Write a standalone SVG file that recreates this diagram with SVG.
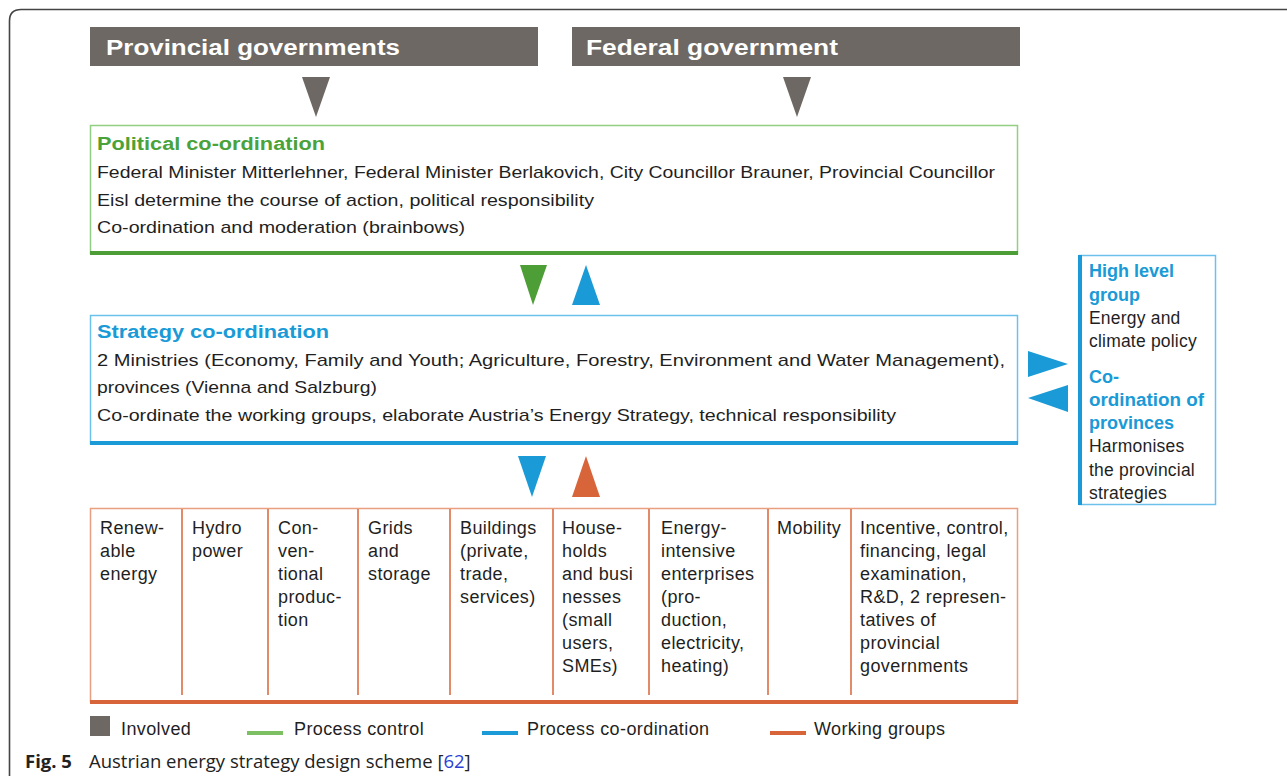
<svg xmlns="http://www.w3.org/2000/svg" width="1287" height="778" viewBox="0 0 1287 778">
<style>
.t{font-family:"Liberation Sans",Arial,sans-serif;font-size:17px;fill:#1f1f1f}
.c{font-family:"Liberation Sans",Arial,sans-serif;font-size:18px;letter-spacing:0.4px;fill:#1f1f1f}
.r{font-family:"Liberation Sans",Arial,sans-serif;font-size:17.5px;letter-spacing:0.2px;fill:#1f1f1f}
.rb{font-family:"Liberation Sans",Arial,sans-serif;font-size:18px;font-weight:bold;fill:#1a9ad6}
.hd{font-family:"Liberation Sans",Arial,sans-serif;font-size:22px;font-weight:bold;fill:#fff}
.tg{font-family:"Liberation Sans",Arial,sans-serif;font-size:18px;font-weight:bold;fill:#4aa33a}
.tb{font-family:"Liberation Sans",Arial,sans-serif;font-size:18px;font-weight:bold;fill:#1a9ad6}
.cap{font-family:"Open Sans","Noto Sans",sans-serif;font-size:18.5px;fill:#222}
.gray{fill:#6d6863}
.green{fill:#4d9e37}
.blue{fill:#1a9ad6}
.orange{fill:#d8643a}
</style>
<rect width="1287" height="778" fill="#fff"/>
<path d="M9.5,776 V21 Q9.5,9.5 21,9.5 H1287" fill="none" stroke="#444" stroke-width="1.6"/>

<g id="provincial">
<rect x="90" y="27" width="448" height="39" class="gray"/>
<text x="106" y="55" class="hd" textLength="294" lengthAdjust="spacingAndGlyphs">Provincial governments</text>
</g>
<g id="federal">
<rect x="572" y="27" width="448" height="39" class="gray"/>
<text x="586" y="55" class="hd" textLength="252" lengthAdjust="spacingAndGlyphs">Federal government</text>
</g>

<g id="political">
<rect x="90.5" y="125.5" width="927" height="128" fill="#fff" stroke="#93cf82" stroke-width="1.5"/>
<rect x="90" y="251" width="928" height="4" class="green"/>
<text x="97" y="150" class="tg" textLength="228" lengthAdjust="spacingAndGlyphs">Political co-ordination</text>
<text x="97" y="178" class="t" textLength="898" lengthAdjust="spacingAndGlyphs">Federal Minister Mitterlehner, Federal Minister Berlakovich, City Councillor Brauner, Provincial Councillor</text>
<text x="97" y="206" class="t" textLength="497" lengthAdjust="spacingAndGlyphs">Eisl determine the course of action, political responsibility</text>
<text x="97" y="233" class="t" textLength="368" lengthAdjust="spacingAndGlyphs">Co-ordination and moderation (brainbows)</text>
</g>

<g id="strategy">
<rect x="90.5" y="315.5" width="927" height="128" fill="#fff" stroke="#6cc1ea" stroke-width="1.5"/>
<rect x="90" y="441" width="928" height="4" class="blue"/>
<text x="97" y="338" class="tb" textLength="232" lengthAdjust="spacingAndGlyphs">Strategy co-ordination</text>
<text x="97" y="366" class="t" textLength="908" lengthAdjust="spacingAndGlyphs">2 Ministries (Economy, Family and Youth; Agriculture, Forestry, Environment and Water Management),</text>
<text x="97" y="393" class="t" textLength="280" lengthAdjust="spacingAndGlyphs">provinces (Vienna and Salzburg)</text>
<text x="97" y="421" class="t" textLength="799" lengthAdjust="spacingAndGlyphs">Co-ordinate the working groups, elaborate Austria’s Energy Strategy, technical responsibility</text>
</g>

<g id="highlevel">
<rect x="1079.5" y="255.5" width="136" height="249" fill="#fff" stroke="#6cc1ea" stroke-width="1.5"/>
<rect x="1078" y="255" width="4" height="250" class="blue"/>
<text class="rb" x="1089" y="277">High level</text>
<text class="rb" x="1089" y="301">group</text>
<text class="r" x="1089" y="324">Energy and</text>
<text class="r" x="1089" y="347">climate policy</text>
<text class="rb" x="1089" y="383">Co-</text>
<text class="rb" x="1089" y="406" textLength="115" lengthAdjust="spacingAndGlyphs">ordination of</text>
<text class="rb" x="1089" y="429">provinces</text>
<text class="r" x="1089" y="452">Harmonises</text>
<text class="r" x="1089" y="476">the provincial</text>
<text class="r" x="1089" y="499">strategies</text>
</g>

<g id="workinggroups">
<rect x="90.5" y="508.5" width="927" height="193" fill="#fff" stroke="#e8a080" stroke-width="1.5"/>
<rect x="90" y="700" width="928" height="4" class="orange"/>
<g stroke="#d8643a" stroke-width="1.5">
<line x1="182" y1="509" x2="182" y2="695"/>
<line x1="268" y1="509" x2="268" y2="695"/>
<line x1="358" y1="509" x2="358" y2="695"/>
<line x1="450" y1="509" x2="450" y2="695"/>
<line x1="553" y1="509" x2="553" y2="695"/>
<line x1="649" y1="509" x2="649" y2="695"/>
<line x1="768" y1="509" x2="768" y2="695"/>
<line x1="851" y1="509" x2="851" y2="695"/>
</g>
<text class="c"><tspan x="100" y="534">Renew-</tspan><tspan x="100" y="557">able</tspan><tspan x="100" y="580">energy</tspan></text>
<text class="c"><tspan x="192" y="534">Hydro</tspan><tspan x="192" y="557">power</tspan></text>
<text class="c"><tspan x="278" y="534">Con-</tspan><tspan x="278" y="557">ven-</tspan><tspan x="278" y="580">tional</tspan><tspan x="278" y="603">produc-</tspan><tspan x="278" y="626">tion</tspan></text>
<text class="c"><tspan x="368" y="534">Grids</tspan><tspan x="368" y="557">and</tspan><tspan x="368" y="580">storage</tspan></text>
<text class="c"><tspan x="460" y="534">Buildings</tspan><tspan x="460" y="557">(private,</tspan><tspan x="460" y="580">trade,</tspan><tspan x="460" y="603">services)</tspan></text>
<text class="c"><tspan x="562" y="534">House-</tspan><tspan x="562" y="557">holds</tspan><tspan x="562" y="580">and busi</tspan><tspan x="562" y="603">nesses</tspan><tspan x="562" y="626">(small</tspan><tspan x="562" y="649">users,</tspan><tspan x="562" y="672">SMEs)</tspan></text>
<text class="c"><tspan x="661" y="534">Energy-</tspan><tspan x="661" y="557">intensive</tspan><tspan x="661" y="580">enterprises</tspan><tspan x="661" y="603">(pro-</tspan><tspan x="661" y="626">duction,</tspan><tspan x="661" y="649">electricity,</tspan><tspan x="661" y="672">heating)</tspan></text>
<text class="c"><tspan x="777" y="534">Mobility</tspan></text>
<text class="c"><tspan x="860" y="534">Incentive, control,</tspan><tspan x="860" y="557">financing, legal</tspan><tspan x="860" y="580">examination,</tspan><tspan x="860" y="603">R&amp;D, 2 represen-</tspan><tspan x="860" y="626">tatives of</tspan><tspan x="860" y="649">provincial</tspan><tspan x="860" y="672">governments</tspan></text>
</g>

<g id="connectors">
<polygon points="302,77 330,77 316,117" class="gray"/>
<polygon points="783,77 811,77 797,117" class="gray"/>
<polygon points="520,265 547,265 533,305" class="green"/>
<polygon points="572,305 600,305 586,265" class="blue"/>
<polygon points="518,456 546,456 532,497" class="blue"/>
<polygon points="572,497 600,497 586,456" class="orange"/>
<polygon points="1028,351 1028,377 1068,364" class="blue"/>
<polygon points="1068,385 1068,412 1028,398" class="blue"/>
</g>

<g id="legend">
<rect x="90" y="716" width="20" height="20" class="gray"/>
<text class="c" x="121" y="735">Involved</text>
<rect x="247" y="731" width="36" height="4" fill="#7dc063"/>
<text class="c" x="294" y="735">Process control</text>
<rect x="482" y="731" width="36" height="4" class="blue"/>
<text class="c" x="527" y="735">Process co-ordination</text>
<rect x="770" y="731" width="36" height="4" class="orange"/>
<text class="c" x="814" y="735">Working groups</text>
</g>

<g id="caption">
<text class="cap" x="25" y="768"><tspan font-weight="bold">Fig. 5</tspan><tspan x="89">Austrian energy strategy design scheme [</tspan><tspan fill="#2b3fd6">62</tspan>]</text>
</g>
</svg>
